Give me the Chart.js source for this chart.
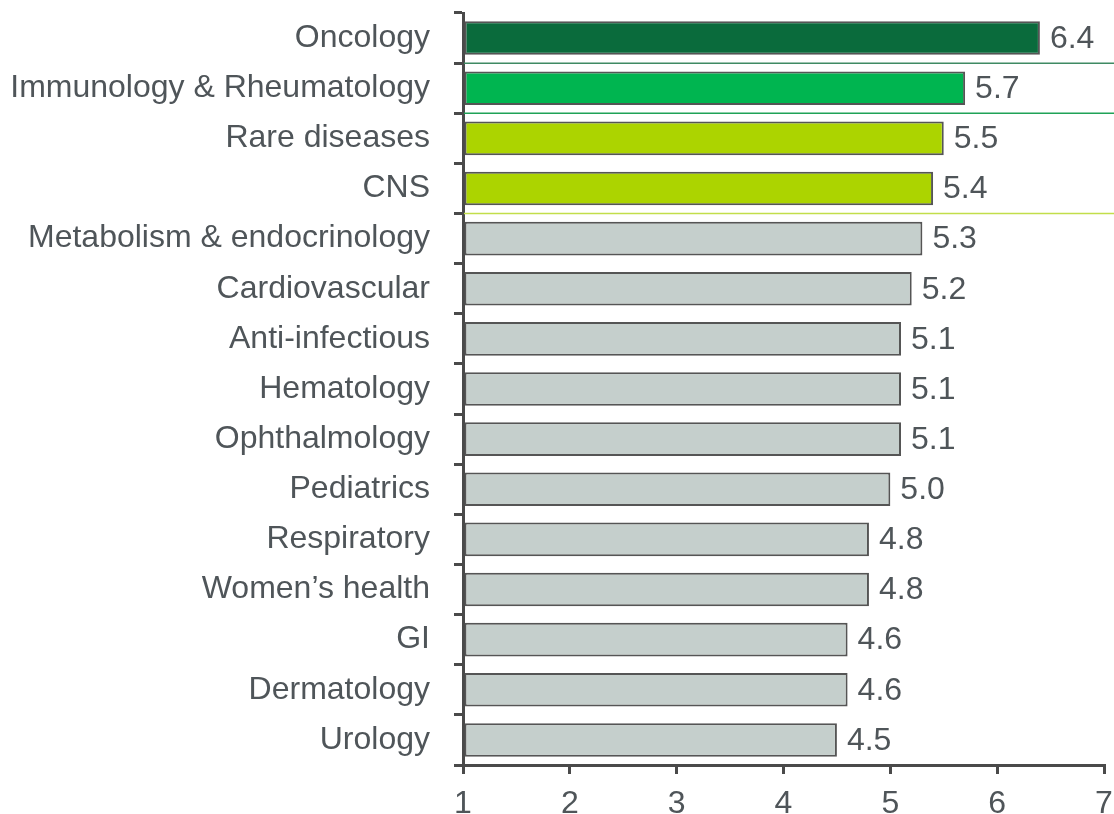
<!DOCTYPE html>
<html>
<head>
<meta charset="utf-8">
<script src="https://cdn.jsdelivr.net/npm/chart.js@4"></script>
<style>
  html, body { margin: 0; padding: 0; background: #fff; }
  #wrap { width: 1114px; height: 814px; }
</style>
</head>
<body>
<div id="wrap"><canvas id="chart" width="1114" height="814"></canvas></div>
<script>
// --- data ---
const areas  = ['Oncology', 'Immunology & Rheumatology', 'Rare diseases', 'CNS',
                'Metabolism & endocrinology', 'Cardiovascular', 'Anti-infectious',
                'Hematology', 'Ophthalmology', 'Pediatrics', 'Respiratory',
                "Women\u2019s health", 'GI', 'Dermatology', 'Urology'];
const scores = [6.4, 5.7, 5.5, 5.4, 5.3, 5.2, 5.1, 5.1, 5.1, 5.0, 4.8, 4.8, 4.6, 4.6, 4.5];
const xTicks = [1, 2, 3, 4, 5, 6, 7];

const tierColors = ['#0a6b3c', '#00b550', '#acd400', '#acd400',
                    '#c5cfcc', '#c5cfcc', '#c5cfcc', '#c5cfcc', '#c5cfcc', '#c5cfcc',
                    '#c5cfcc', '#c5cfcc', '#c5cfcc', '#c5cfcc', '#c5cfcc'];
// separator line drawn below these rows
const separators = [{ after: 0, color: '#3f8a63' }, { after: 1, color: '#1fa257' }, { after: 3, color: '#c2de4a' }];

const TEXT = '#4f5559';
const AXIS = '#4a4a4a';
const FONT = "'Liberation Sans', Arial, sans-serif";

const extras = {
  id: 'extras',
  afterDatasetsDraw(chart) {
    const { ctx, scales: { y }, chartArea } = chart;
    ctx.save();
    // coloured separators between tiers
    separators.forEach(s => {
      const yy = (y.getPixelForValue(s.after) + y.getPixelForValue(s.after + 1)) / 2;
      ctx.strokeStyle = s.color;
      ctx.lineWidth = 1.5;
      ctx.beginPath();
      ctx.moveTo(chartArea.left + 1, yy);
      ctx.lineTo(chart.width, yy);
      ctx.stroke();
    });
    // value labels
    ctx.fillStyle = TEXT;
    ctx.font = '32px ' + FONT;
    ctx.textAlign = 'left';
    ctx.textBaseline = 'middle';
    chart.getDatasetMeta(0).data.forEach((bar, i) => {
      ctx.fillText(scores[i].toFixed(1), bar.x + 10, bar.y + 1);
    });
    ctx.restore();
  }
};

new Chart(document.getElementById('chart'), {
  type: 'bar',
  data: {
    labels: areas,
    datasets: [{
      data: scores,
      backgroundColor: tierColors,
      borderColor: '#555555',
      borderWidth: 2,
      borderSkipped: false,
      categoryPercentage: 1,
      barPercentage: 0.67,
      base: 1
    }]
  },
  options: {
    indexAxis: 'y',
    responsive: false,
    animation: false,
    layout: { padding: { top: 13, right: 10, left: 0, bottom: 0 } },
    plugins: { legend: { display: false }, tooltip: { enabled: false } },
    scales: {
      x: {
        min: 1, max: 7,
        afterBuildTicks: s => { s.ticks = xTicks.map(v => ({ value: v })); },
        afterFit: s => { s.height = 49; s.paddingLeft = 0; s.paddingRight = 0; },
        border: { display: true, color: AXIS, width: 3 },
        grid: { drawOnChartArea: false, drawTicks: true, tickLength: 9, color: AXIS, lineWidth: 3 },
        ticks: { color: TEXT, font: { family: FONT, size: 32 }, padding: 11, maxRotation: 0 }
      },
      y: {
        afterFit: s => { s.width = 463; s.paddingTop = 0; s.paddingBottom = 0; },
        border: { display: true, color: AXIS, width: 3 },
        grid: { drawOnChartArea: false, drawTicks: true, tickLength: 9, color: AXIS, lineWidth: 3, offset: true },
        ticks: { color: TEXT, font: { family: FONT, size: 32 }, padding: 24 }
      }
    }
  },
  plugins: [extras]
});
</script>
</body>
</html>
